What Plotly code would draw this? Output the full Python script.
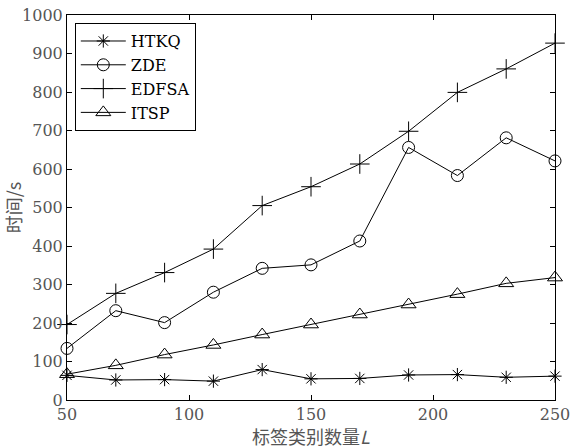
import plotly.graph_objects as go

x_vals = [50, 70, 90, 110, 130, 150, 170, 190, 210, 230, 250]
htkq = [64, 52, 53, 49, 79, 55, 56, 65, 66, 59, 62]
zde = [134, 232, 201, 280, 342, 351, 413, 656, 583, 681, 621]
edfsa = [196, 277, 331, 392, 505, 554, 613, 698, 799, 860, 927]
itsp = [67, 90, 118, 143, 170, 196, 222, 248, 275, 303, 318]
x_ticks = [50, 100, 150, 200, 250]
y_ticks = [0, 100, 200, 300, 400, 500, 600, 700, 800, 900, 1000]

series = [
    ("HTKQ", htkq, "asterisk-open", 11),
    ("ZDE", zde, "circle-open", 12),
    ("EDFSA", edfsa, "cross-thin-open", 14),
    ("ITSP", itsp, "triangle-up-open", 13),
]

fig = go.Figure()
for name, ys, sym, sz in series:
    fig.add_trace(go.Scatter(
        x=x_vals, y=ys, name=name, mode="lines+markers",
        line=dict(color="black", width=1),
        marker=dict(symbol=sym, size=sz, color="black", line=dict(color="black", width=1)),
        cliponaxis=False,
    ))

serif = "DejaVu Serif"
cjk = "Noto Sans CJK SC"
grey = "#555"
fig.update_layout(
    width=571, height=448,
    margin=dict(l=67, r=16, t=15, b=48, autoexpand=False),
    paper_bgcolor="white", plot_bgcolor="white",
    font=dict(family=serif, color=grey, size=16),
    showlegend=True,
    legend=dict(
        x=0.016, y=0.979, xanchor="left", yanchor="top",
        bgcolor="white", bordercolor="black", borderwidth=1,
        font=dict(size=16, color="black", family=serif),
        tracegroupgap=0, itemwidth=45,
    ),
    xaxis=dict(
        range=[50, 250], tickvals=x_ticks,
        showline=True, linecolor="black", linewidth=1, mirror="ticks",
        ticks="inside", ticklen=5, tickcolor="black",
        showgrid=False, zeroline=False, automargin=False,
        ticklabeloverflow="allow",
        tickfont=dict(size=16, color=grey, family=serif),
    ),
    yaxis=dict(
        range=[0, 1000], tickvals=y_ticks,
        showline=True, linecolor="black", linewidth=1, mirror="ticks",
        ticks="inside", ticklen=5, tickcolor="black",
        showgrid=False, zeroline=False, automargin=False,
        ticklabeloverflow="allow",
        tickfont=dict(size=16, color=grey, family=serif),
        title=dict(text="时间/s", font=dict(size=18, color=grey, family=cjk), standoff=2),
    ),
    annotations=[
        dict(text="标签类别数量<i>L</i>", xref="paper", yref="paper", x=0.5, y=-0.0935,
             xanchor="center", yanchor="middle", showarrow=False,
             font=dict(size=18, color=grey, family=cjk)),
    ],
)

fig.write_html(
    "out.html",
    config={"displayModeBar": False},
    post_script="document.body.style.margin='0';document.body.style.overflow='hidden';",
)
